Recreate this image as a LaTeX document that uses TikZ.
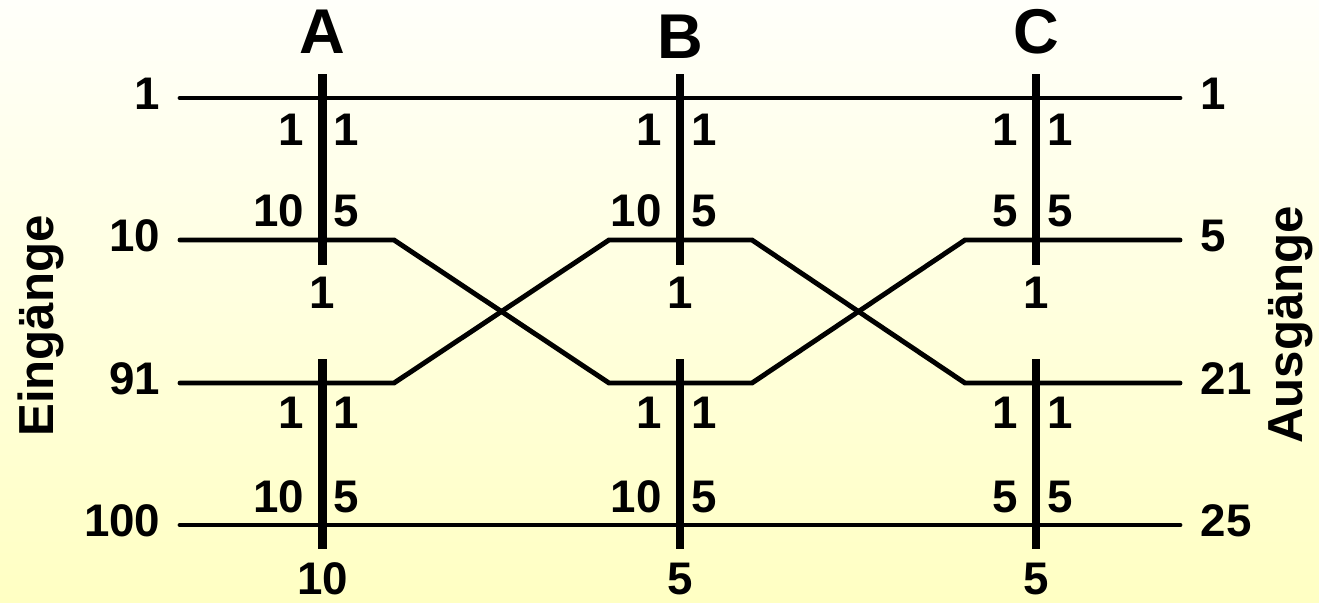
\documentclass[tikz,border=0pt]{standalone}
\usepackage{fontspec}
\setmainfont{Liberation Sans}
\definecolor{bgtop}{RGB}{255,255,250}
\definecolor{bgbot}{RGB}{255,255,195}

\begin{document}
\begin{tikzpicture}[font=\bfseries\fontsize{13}{15}\selectfont,
  wire/.style={line width=1.4pt,line cap=round},
  bar/.style={line width=2.4pt},
  num/.style={inner sep=0pt},
  side/.style={rotate=90,anchor=base,font=\bfseries\fontsize{14}{16}\selectfont}]
  \shade[top color=bgtop,bottom color=bgbot] (0,0) rectangle (13.19,-6.02);
  \useasboundingbox (0,0) rectangle (13.19,-6.02);
  % wire points p<row><column>
  \foreach \r/\y in {1/-0.98,2/-2.40,3/-3.83,4/-5.25} {
    \foreach \k/\x in {0/1.80,1/3.94,2/6.09,3/7.52,4/9.65,5/11.80}
      \coordinate (p\r\k) at (\x,\y);
  }
  \foreach \r/\y/\i/\o in {1/-0.98/1/1, 2/-2.40/10/5,
    3/-3.83/91/21, 4/-5.25/100/25} {
    \node[num,anchor=east] (in\r) at (1.61,\y+0.04) {\i};
    \node[num,anchor=west] (out\r) at (12.00,\y+0.04) {\o};
  }
  \node[side] (ein) at (0.53,-3.26) {Eingänge};
  \node[side] (aus) at (13.02,-3.25) {Ausgänge};
  \draw[wire] (p10) -- (p15);
  \draw[wire] (p40) -- (p45);
  \draw[wire] (p20) -- (p21) -- (p32) -- (p33) -- (p24) -- (p25);
  \draw[wire] (p30) -- (p31) -- (p22) -- (p23) -- (p34) -- (p35);
  \foreach \n/\x/\t/\m/\u in {A/3.225/-0.32/10/10,
    B/6.80/-0.37/10/5, C/10.36/-0.32/5/5} {
    \node[font=\bfseries\fontsize{18}{20}\selectfont] (t\n) at (\x,\t) {\n};
    \draw[bar] (\x,-0.74) -- (\x,-2.65);
    \draw[bar] (\x,-3.59) -- (\x,-5.49);
    \foreach \s/\ya/\yb/\yc/\v in {u/-1.30/-2.11/-2.93/1,
      l/-4.13/-4.97/-5.79/\u} {
      \node[num,anchor=east] (\n\s1) at (\x-0.175,\ya) {1};
      \node[num,anchor=west] (\n\s2) at (\x+0.105,\ya) {1};
      \node[num,anchor=east] (\n\s3) at (\x-0.175,\yb) {\m};
      \node[num,anchor=west] (\n\s4) at (\x+0.105,\yb) {5};
      \node (\n\s5) at (\x,\yc) {\v};
    }
  }
\end{tikzpicture}
\end{document}
